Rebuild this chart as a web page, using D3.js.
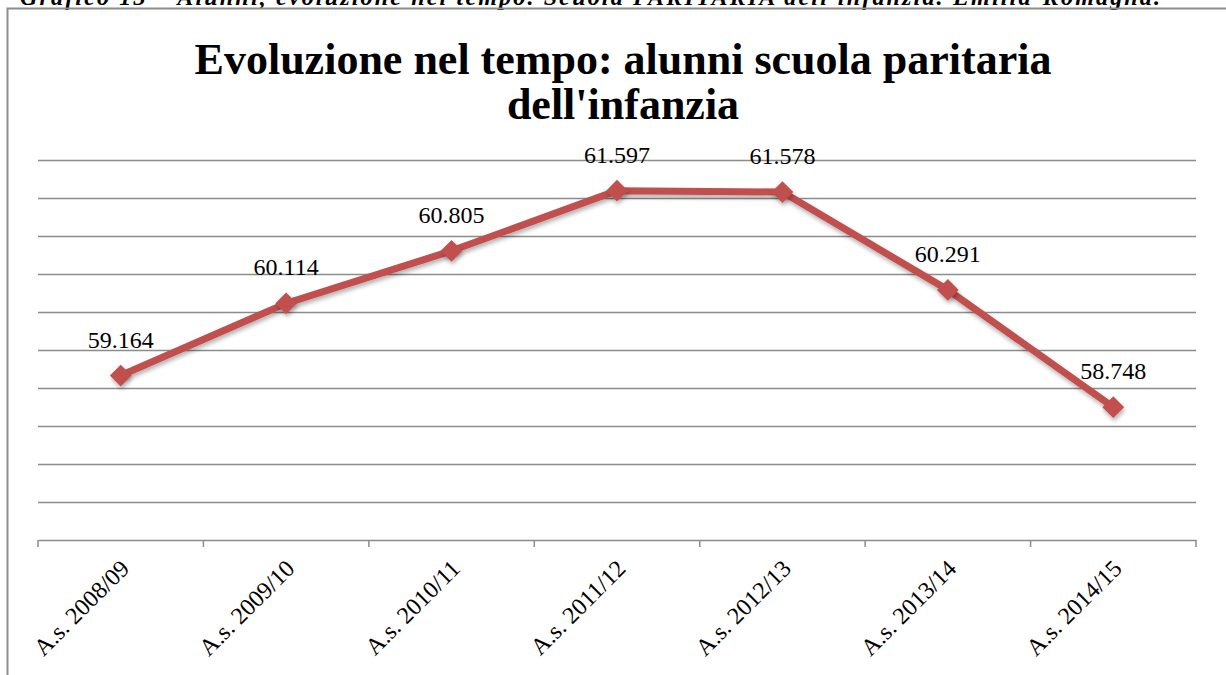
<!DOCTYPE html>
<html>
<head>
<meta charset="utf-8">
<script src="https://cdn.jsdelivr.net/npm/d3@7"></script>
<style>
  body { margin: 0; background: #fff; }
  svg { display: block; font-family: "Liberation Serif", "Times New Roman", serif; }
</style>
</head>
<body>
<svg></svg>
<script>
var width = 1226;
var height = 675;

var years = ["A.s. 2008/09", "A.s. 2009/10", "A.s. 2010/11", "A.s. 2011/12", "A.s. 2012/13", "A.s. 2013/14", "A.s. 2014/15"];
var alunni = [59.164, 60.114, 60.805, 61.597, 61.578, 60.291, 58.748];
var yTicks = [57, 57.5, 58, 58.5, 59, 59.5, 60, 60.5, 61, 61.5, 62];

var plotLeft = 38, plotRight = 1196, plotTop = 160, plotBottom = 540;

var svg = d3.select("svg")
    .attr("width", width)
    .attr("height", height);

var defs = svg.append("defs");
var shadow = defs.append("filter").attr("id", "shadow")
    .attr("x", "-30%").attr("y", "-30%").attr("width", "160%").attr("height", "160%");
shadow.append("feDropShadow")
    .attr("dx", 1).attr("dy", 3).attr("stdDeviation", 2)
    .attr("flood-color", "#000").attr("flood-opacity", 0.3);

// caption, cut off at the top of the page
svg.append("text")
    .attr("x", 20)
    .attr("y", 5)
    .attr("font-size", 24)
    .attr("font-weight", "bold")
    .attr("font-style", "italic")
    .attr("textLength", 1140)
    .text("Grafico 13 – Alunni, evoluzione nel tempo. Scuola PARITARIA dell'infanzia. Emilia-Romagna.");

// chart frame
svg.append("path")
    .attr("d", `M7.5,${height} V8.5 H${width}`)
    .attr("fill", "none")
    .attr("stroke", "#8c8c8c")
    .attr("stroke-width", 2);

var xScale = d3.scaleBand()
    .domain(years)
    .range([plotLeft, plotRight]);

var yScale = d3.scaleLinear()
    .domain([57, 62])
    .range([plotBottom, plotTop]);

// gridlines
var yAxis = d3.axisLeft(yScale)
    .tickValues(yTicks.slice(1))
    .tickSize(-(plotRight - plotLeft))
    .tickFormat("");
svg.append("g")
    .attr("transform", `translate(${plotLeft},0)`)
    .call(yAxis)
    .call(g => g.select(".domain").remove())
    .call(g => g.selectAll("line").attr("stroke", "#8c8c8c").attr("stroke-width", 1.5));

// category axis
var xAxis = d3.axisBottom(xScale).tickSize(0).tickSizeOuter(0);
var gx = svg.append("g")
    .attr("transform", `translate(0,${plotBottom})`)
    .call(xAxis);
gx.select(".domain").attr("stroke", "#8c8c8c").attr("stroke-width", 1.5);
gx.selectAll(".tick text")
    .attr("font-family", "Liberation Serif, serif")
    .attr("font-size", 24)
    .attr("fill", "#000")
    .attr("text-anchor", "end")
    .attr("transform", "translate(4,24) rotate(-45)")
    .attr("dy", "0.35em")
    .attr("y", 0)
    .attr("x", 0);

var bounds = years.map(d => xScale(d)).concat([plotRight]);
gx.selectAll(".bound")
    .data(bounds)
    .enter()
    .append("line")
    .attr("x1", d => d).attr("x2", d => d)
    .attr("y1", 0).attr("y2", 7)
    .attr("stroke", "#8c8c8c")
    .attr("stroke-width", 1.5);

// title
var title = svg.append("text")
    .attr("x", 623)
    .attr("text-anchor", "middle")
    .attr("font-size", 44)
    .attr("font-weight", "bold");
title.append("tspan").attr("x", 623).attr("y", 74).text("Evoluzione nel tempo: alunni scuola paritaria");
title.append("tspan").attr("x", 623).attr("y", 119).text("dell'infanzia");

var cx = d => xScale(d) + xScale.bandwidth() / 2;

var line = d3.line()
    .x((d, i) => cx(years[i]))
    .y(d => yScale(d));

svg.append("path")
    .datum(alunni)
    .attr("d", line)
    .attr("fill", "none")
    .attr("stroke", "#c0504d")
    .attr("stroke-width", 7)
    .attr("stroke-linejoin", "round")
    .attr("filter", "url(#shadow)");

svg.selectAll(".marker")
    .data(alunni)
    .enter()
    .append("path")
    .attr("class", "marker")
    .attr("d", d3.symbol().type(d3.symbolDiamond2).size(300))
    .attr("transform", (d, i) => `translate(${cx(years[i])},${yScale(d)})`)
    .attr("fill", "#c0504d")
    .attr("filter", "url(#shadow)");

svg.selectAll(".lbl")
    .data(alunni)
    .enter()
    .append("text")
    .attr("x", (d, i) => cx(years[i]))
    .attr("y", d => yScale(d) - 28)
    .attr("text-anchor", "middle")
    .attr("font-size", 24)
    .text(d => d3.format(".3f")(d));
</script>
</body>
</html>
